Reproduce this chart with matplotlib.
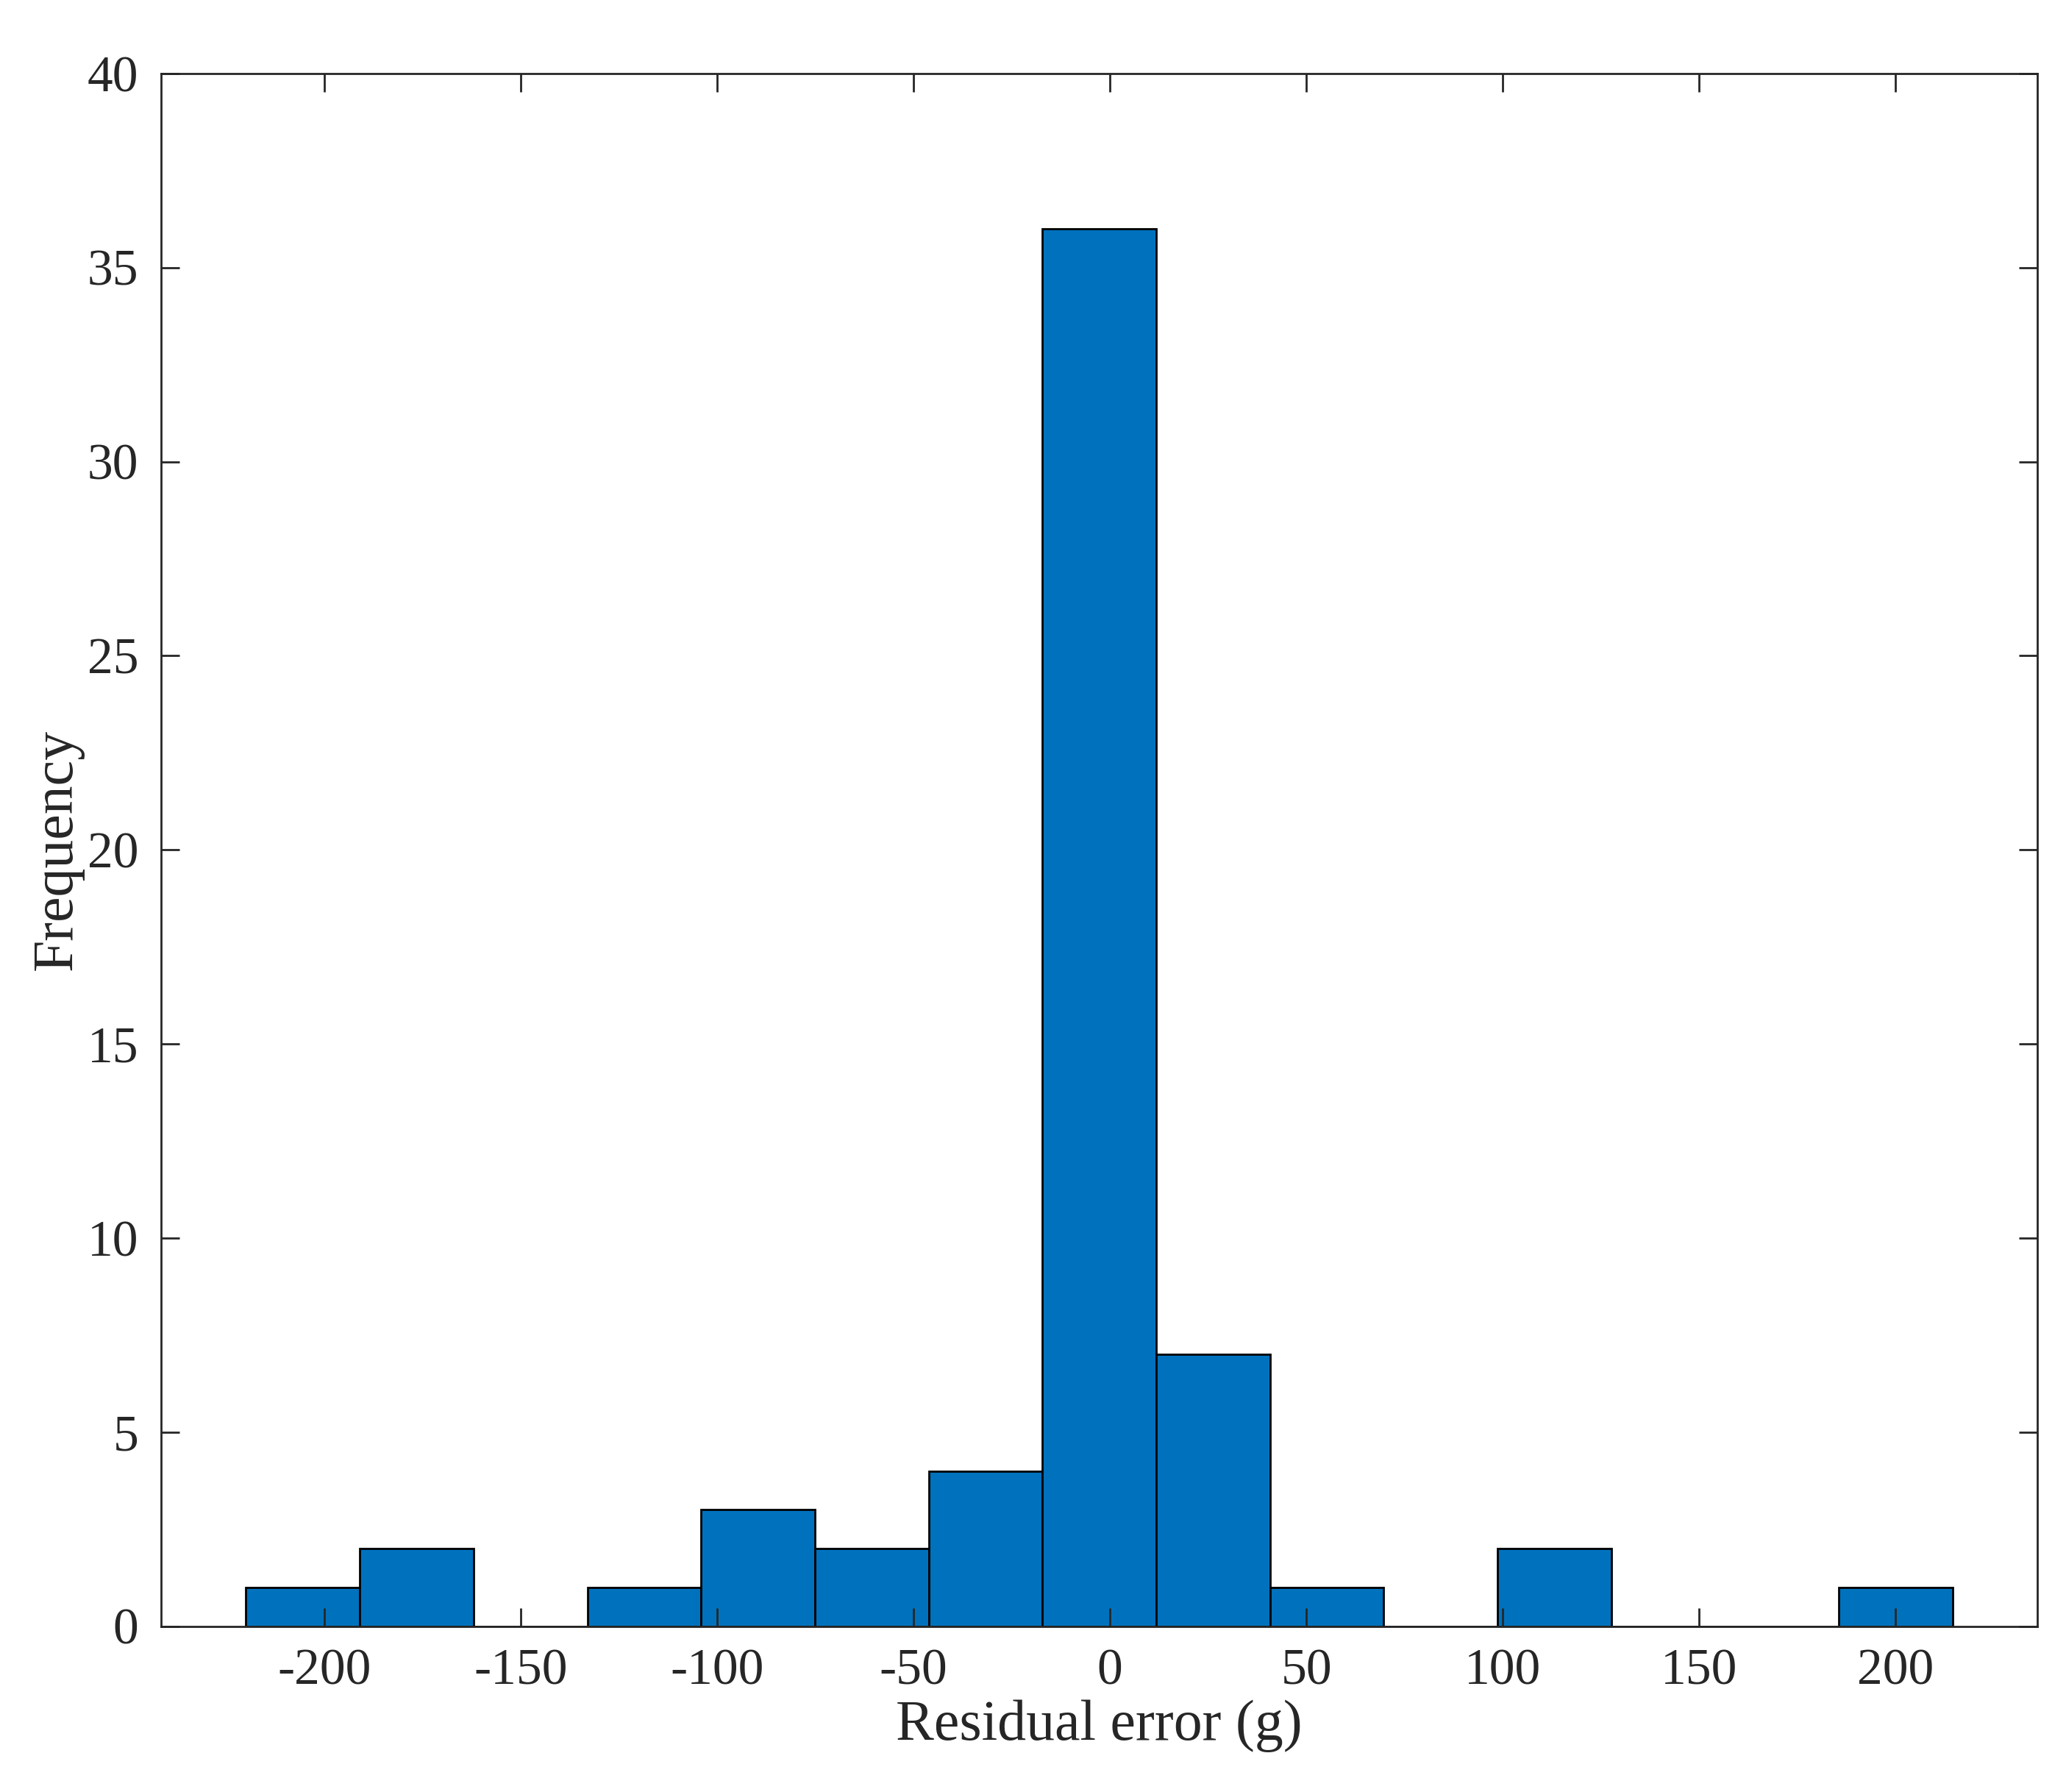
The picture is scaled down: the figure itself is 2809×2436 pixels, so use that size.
import matplotlib
matplotlib.use("Agg")
import matplotlib.pyplot as plt
import numpy as np

bin_start = -219.9
bin_width = 28.96
counts = [1, 2, 0, 1, 3, 2, 4, 36, 7, 1, 0, 2, 0, 0, 1]
xticks = [-200, -150, -100, -50, 0, 50, 100, 150, 200]
yticks = [0, 5, 10, 15, 20, 25, 30, 35, 40]

plt.rcParams['font.family'] = ['Liberation Serif', 'DejaVu Serif']
fig = plt.figure(figsize=(28.09, 24.36), dpi=100)
ax = fig.add_axes([0.078, 0.0925, 0.908, 0.8665])
edges = bin_start + bin_width * np.arange(len(counts) + 1)
ax.bar(edges[:-1], counts, width=bin_width, align='edge', color='#0072BD',
       edgecolor='black', linewidth=2)
ax.set_xlim(-241.5, 236)
ax.set_ylim(0, 40)
ax.set_xticks(xticks)
ax.set_xticklabels([str(t) for t in xticks])
ax.set_yticks(yticks)
ax.tick_params(direction='in', top=True, right=True, length=18, width=2,
               labelsize=50, colors='#262626', pad=22)
for s in ax.spines.values():
    s.set_linewidth(2)
    s.set_color('#262626')
ax.set_xlabel('Residual error (g)', fontsize=56, color='#262626')
ax.set_ylabel('Frequency', fontsize=56, color='#262626')
fig.savefig('out.png', dpi=100)
